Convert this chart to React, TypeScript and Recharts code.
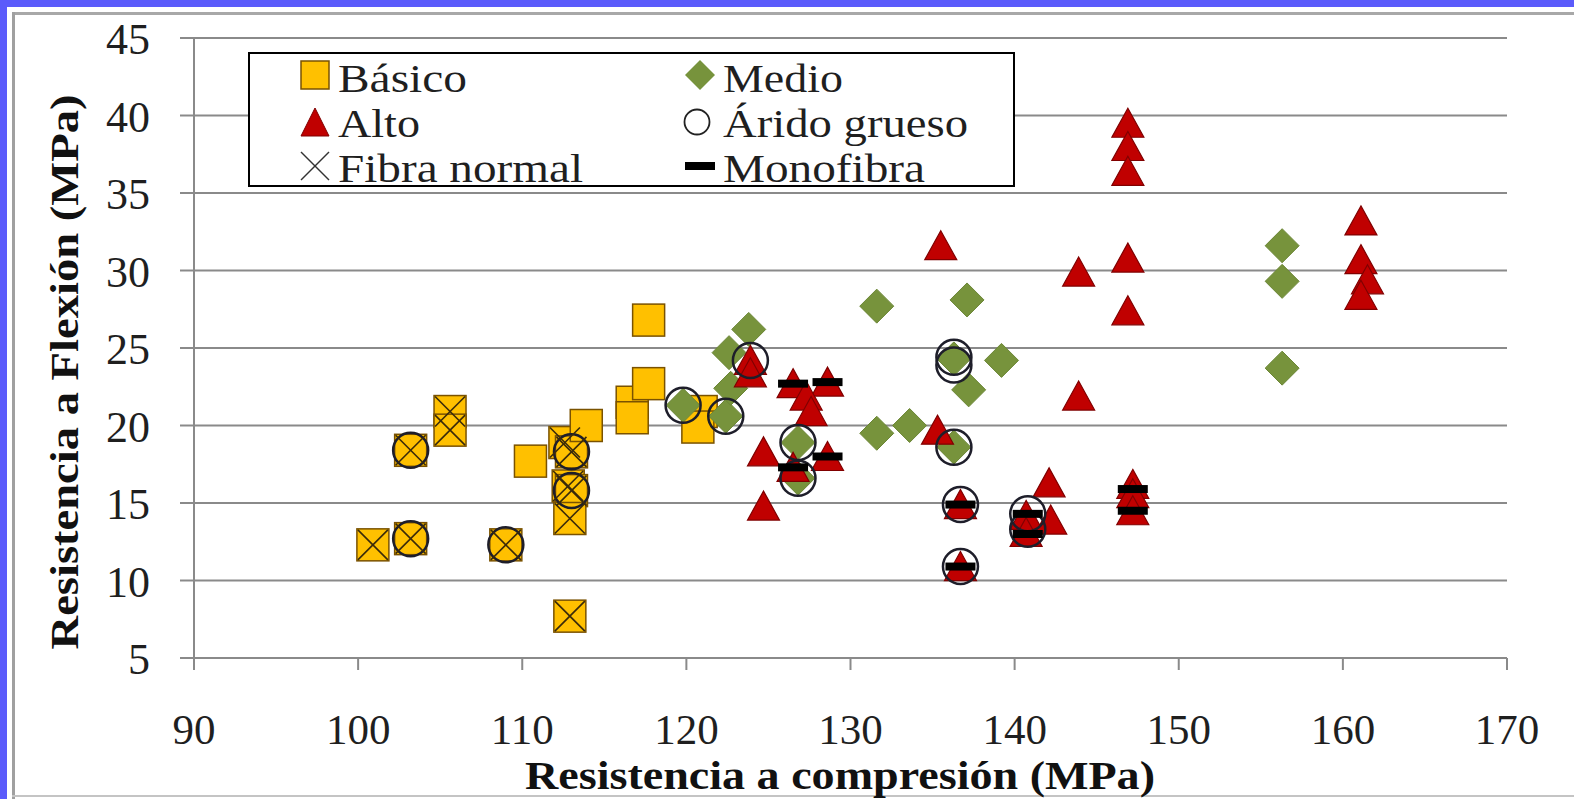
import React from 'react';
import { ScatterChart, Scatter, XAxis, YAxis, CartesianGrid, Legend, Label } from 'recharts';

// ---------- data ----------
const xTicks = [90, 100, 110, 120, 130, 140, 150, 160, 170];
const yTicks = [5, 10, 15, 20, 25, 30, 35, 40, 45];

const basico: [number, number][] = [
  [100.9, 12.3], [103.2, 12.7], [103.2, 18.4], [105.6, 20.9], [105.6, 19.7],
  [109.0, 12.3], [110.5, 17.7], [112.6, 18.9], [113.0, 18.3], [112.8, 16.1],
  [113.0, 15.8], [112.9, 14.0], [112.9, 7.7], [113.9, 20.0], [116.7, 21.5],
  [116.7, 20.5], [117.7, 22.7], [117.7, 26.8], [120.9, 20.9], [120.7, 19.9],
];

const medio: [number, number][] = [
  [119.8, 21.3], [122.4, 20.6], [122.7, 22.4], [122.6, 24.7], [123.8, 26.2],
  [126.8, 18.9], [126.8, 16.6], [131.6, 27.7], [131.6, 19.5], [133.6, 20.0],
  [136.3, 18.6], [136.3, 24.3], [137.1, 28.1], [139.2, 24.2], [137.2, 22.3],
  [156.3, 31.6], [156.3, 29.3], [156.3, 23.7],
];

const alto: [number, number][] = [
  [123.9, 24.2], [123.9, 23.4], [126.5, 22.7], [128.6, 22.8], [127.3, 21.9],
  [127.6, 20.9], [124.7, 18.3], [124.7, 14.8], [126.5, 17.3], [128.6, 18.0],
  [135.3, 19.7], [135.5, 31.6], [136.7, 14.9], [136.7, 10.9], [140.7, 14.2],
  [140.7, 13.1], [142.1, 16.3], [142.2, 13.9], [143.9, 29.9], [143.9, 21.9],
  [146.9, 39.5], [146.9, 38.0], [146.9, 36.4], [146.9, 30.8], [146.9, 27.4],
  [147.2, 16.2], [147.2, 15.6], [147.2, 14.5], [161.1, 33.2], [161.1, 30.7],
  [161.5, 29.4], [161.1, 28.4],
];

const aridoGrueso: [number, number][] = [
  [103.2, 12.7], [103.2, 18.4], [109.0, 12.3], [113.0, 18.3], [113.0, 15.8],
  [119.8, 21.3], [122.4, 20.6], [123.9, 24.2], [126.8, 18.9], [126.8, 16.6],
  [136.3, 24.4], [136.3, 23.9], [136.3, 18.6], [136.7, 14.9], [136.7, 10.9],
  [140.8, 14.3], [140.8, 13.3],
];

const fibraNormal: [number, number][] = [
  [100.9, 12.3], [103.2, 12.7], [103.2, 18.4], [105.6, 20.9], [105.6, 19.7],
  [109.0, 12.3], [112.6, 18.9], [113.0, 18.3], [112.8, 16.1], [113.0, 15.8],
  [112.9, 14.0], [112.9, 7.7],
];

const monofibra: [number, number][] = [
  [126.5, 22.7], [128.6, 22.8], [126.5, 17.3], [128.6, 18.0], [136.7, 14.9],
  [136.7, 10.9], [140.8, 14.3], [140.8, 13.0], [147.2, 15.9], [147.2, 14.5],
];

const toPts = (arr: [number, number][]) => arr.map(([x, y]) => ({ x, y }));

// ---------- styles ----------
const FONT = 'Liberation Serif, Times New Roman, serif';
const GRID = '#8a8a8a';
const TEXT = '#1f1f1f';
const C_BASICO = '#FFC000';
const C_MEDIO = '#77933C';
const C_ALTO = '#C00000';

// ---------- marker shapes ----------
const SquareMark = (p: any) => {
  const { cx, cy } = p;
  if (cx == null || cy == null) return null;
  return <rect x={cx - 16} y={cy - 16} width={32} height={32} fill={C_BASICO} stroke="#7a5200" strokeWidth={1.5} />;
};
const DiamondMark = (p: any) => {
  const { cx, cy } = p;
  if (cx == null || cy == null) return null;
  const r = 17;
  return <polygon points={`${cx},${cy - r} ${cx + r},${cy} ${cx},${cy + r} ${cx - r},${cy}`} fill={C_MEDIO} stroke="#6b8636" strokeWidth={1} />;
};
const TriangleMark = (p: any) => {
  const { cx, cy } = p;
  if (cx == null || cy == null) return null;
  return <polygon points={`${cx},${cy - 15} ${cx + 16},${cy + 14} ${cx - 16},${cy + 14}`} fill={C_ALTO} stroke="#800000" strokeWidth={1.2} />;
};
const CircleMark = (p: any) => {
  const { cx, cy } = p;
  if (cx == null || cy == null) return null;
  return <circle cx={cx} cy={cy} r={17.5} fill="none" stroke="#1e1e2a" strokeWidth={2.5} />;
};
const XMark = (p: any) => {
  const { cx, cy } = p;
  if (cx == null || cy == null) return null;
  const r = 15;
  return (
    <g stroke="#3a2a0a" strokeWidth={1.6}>
      <line x1={cx - r} y1={cy - r} x2={cx + r} y2={cy + r} />
      <line x1={cx - r} y1={cy + r} x2={cx + r} y2={cy - r} />
    </g>
  );
};
const DashMark = (p: any) => {
  const { cx, cy } = p;
  if (cx == null || cy == null) return null;
  return <rect x={cx - 15} y={cy - 4} width={30} height={8} fill="#000" />;
};

// ---------- ticks ----------
const XTick = (p: any) => (
  <text x={p.x} y={p.y + 72} textAnchor="middle" style={{ fontFamily: FONT }} fontSize={43} fill={TEXT}>
    {p.payload.value}
  </text>
);
const YTick = (p: any) => (
  <text x={p.x - 28} y={p.y + 16} textAnchor="end" style={{ fontFamily: FONT }} fontSize={44} fill={TEXT}>
    {p.payload.value}
  </text>
);

// ---------- legend ----------
const LegendText = ({ x, y, w, children }: any) => (
  <text x={x} y={y} style={{ fontFamily: FONT }} fontSize={41} fill={TEXT} textLength={w} lengthAdjust="spacingAndGlyphs">
    {children}
  </text>
);

const LegendBox = () => {
  const r1 = 23, r2 = 70, r3 = 114;
  const b1 = 40, b2 = 85, b3 = 130;
  const c1 = 67, t1 = 90, c2 = 452, t2 = 475;
  return (
    <svg width={767} height={150} style={{ display: 'block', overflow: 'visible' }}>
      <rect x={1} y={1} width={765} height={133} fill="#fff" stroke="#000" strokeWidth={2} />
      <rect x={c1 - 14} y={r1 - 14} width={28} height={28} fill={C_BASICO} stroke="#7a5200" strokeWidth={1.5} />
      <LegendText x={t1} y={b1} w={129}>Básico</LegendText>
      <polygon points={`${c1},${r2 - 14} ${c1 + 14},${r2 + 14} ${c1 - 14},${r2 + 14}`} fill={C_ALTO} stroke="#800000" strokeWidth={1} />
      <LegendText x={t1} y={b2} w={82}>Alto</LegendText>
      <g stroke="#333" strokeWidth={1.5}>
        <line x1={c1 - 14} y1={r3 - 14} x2={c1 + 14} y2={r3 + 14} />
        <line x1={c1 - 14} y1={r3 + 14} x2={c1 + 14} y2={r3 - 14} />
      </g>
      <LegendText x={t1} y={b3} w={245}>Fibra normal</LegendText>

      <polygon points={`${c2},${r1 - 15} ${c2 + 15},${r1} ${c2},${r1 + 15} ${c2 - 15},${r1}`} fill={C_MEDIO} />
      <LegendText x={t2} y={b1} w={120}>Medio</LegendText>
      <circle cx={c2 - 3} cy={r2} r={12.5} fill="none" stroke="#222" strokeWidth={1.8} />
      <LegendText x={t2} y={b2} w={245}>Árido grueso</LegendText>
      <rect x={c2 - 15} y={r3 - 4} width={30} height={8} fill="#000" />
      <LegendText x={t2} y={b3} w={202}>Monofibra</LegendText>
    </svg>
  );
};

export default function App() {
  return (
    <div style={{ position: 'fixed', left: 0, top: 0, width: 1574, height: 799, background: '#fff', overflow: 'hidden' }}>
      {/* frame */}
      <div style={{ position: 'absolute', left: 0, top: 0, width: 1574, height: 7, background: '#5b5bfb' }} />
      <div style={{ position: 'absolute', left: 0, top: 0, width: 7, height: 799, background: '#5b5bfb' }} />
      <div style={{ position: 'absolute', left: 12, top: 12, width: 1562, height: 3, background: '#a8a8a8' }} />
      <div style={{ position: 'absolute', left: 12, top: 12, width: 3, height: 787, background: '#a0a0a0' }} />
      <div style={{ position: 'absolute', left: 12, top: 795, width: 1562, height: 2, background: '#c4c4c4' }} />
      <div style={{ position: 'absolute', left: 0, top: 0 }}>
        <ScatterChart width={1574} height={799} margin={{ top: 38, right: 67, bottom: 101, left: 134 }}>
          <CartesianGrid horizontal vertical={false} stroke={GRID} strokeWidth={2} />
          <XAxis
            type="number"
            dataKey="x"
            domain={[90, 170]}
            ticks={xTicks}
            interval={0}
            height={40}
            tickSize={12}
            tickMargin={2}
            axisLine={{ stroke: GRID, strokeWidth: 2 }}
            tickLine={{ stroke: GRID, strokeWidth: 2 }}
            tick={<XTick />}
          >
            <Label
              content={() => (
                <text x={840} y={789} textAnchor="middle" style={{ fontFamily: FONT }} fontSize={40} fontWeight="bold" fill="#111" textLength={630} lengthAdjust="spacingAndGlyphs">
                  Resistencia a compresión (MPa)
                </text>
              )}
            />
          </XAxis>
          <YAxis
            type="number"
            dataKey="y"
            domain={[5, 45]}
            ticks={yTicks}
            interval={0}
            width={60}
            tickSize={14}
            tickMargin={2}
            axisLine={{ stroke: GRID, strokeWidth: 2 }}
            tickLine={{ stroke: GRID, strokeWidth: 2 }}
            tick={<YTick />}
          >
            <Label
              content={() => (
                <text x={78} y={372} transform="rotate(-90 78 372)" textAnchor="middle" style={{ fontFamily: FONT }} fontSize={41} fontWeight="bold" fill="#111" textLength={555} lengthAdjust="spacingAndGlyphs">
                  Resistencia a Flexión (MPa)
                </text>
              )}
            />
          </YAxis>
          <Legend
            layout="horizontal"
            verticalAlign="middle"
            align="center"
            content={() => <LegendBox />}
            wrapperStyle={{ position: 'absolute', left: 248, top: 52, width: 767, height: 150 }}
          />
          <Scatter name="Básico" data={toPts(basico)} shape={SquareMark} isAnimationActive={false} />
          <Scatter name="Medio" data={toPts(medio)} shape={DiamondMark} isAnimationActive={false} />
          <Scatter name="Alto" data={toPts(alto)} shape={TriangleMark} isAnimationActive={false} />
          <Scatter name="Árido grueso" data={toPts(aridoGrueso)} shape={CircleMark} isAnimationActive={false} />
          <Scatter name="Fibra normal" data={toPts(fibraNormal)} shape={XMark} isAnimationActive={false} />
          <Scatter name="Monofibra" data={toPts(monofibra)} shape={DashMark} isAnimationActive={false} />
        </ScatterChart>
      </div>
    </div>
  );
}
